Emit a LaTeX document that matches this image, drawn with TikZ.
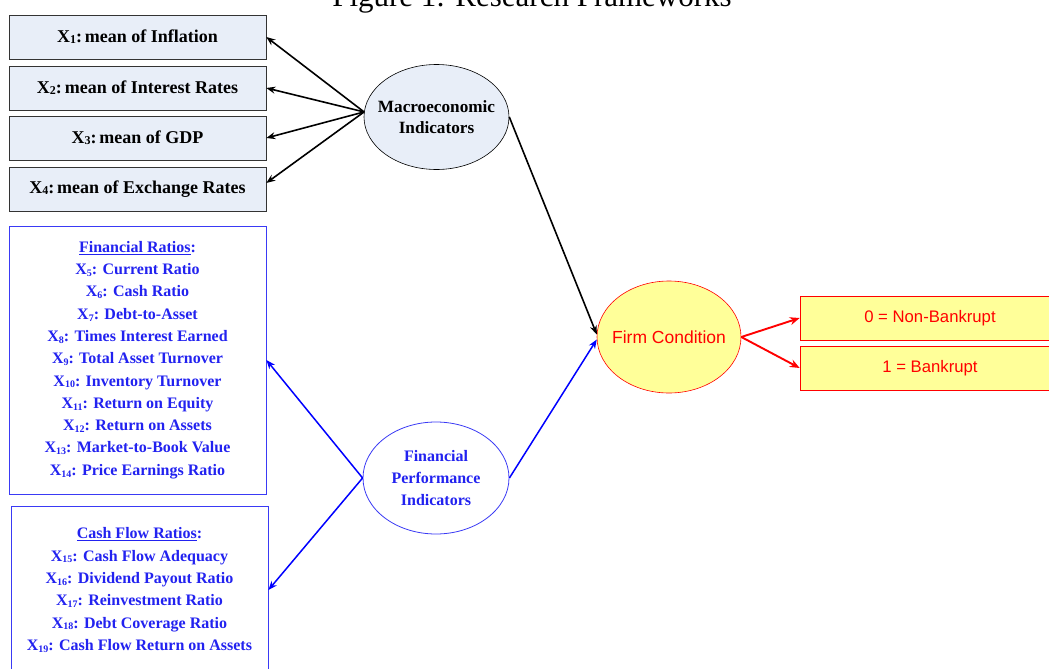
\documentclass[tikz,border=0pt]{standalone}
\usepackage{fontspec}
\setmainfont{Liberation Serif}
\newfontfamily\sansf{Liberation Sans}
\usetikzlibrary{shapes.geometric,arrows.meta}
\definecolor{mfill}{HTML}{E8EEF8}
\definecolor{fblue}{HTML}{2222F0}
\definecolor{bblue}{HTML}{3A3AF5}
\definecolor{yfill}{HTML}{FFFF99}
\newcommand{\xs}[1]{\raisebox{-0.25ex}{\fontsize{10}{10}\selectfont #1}}
\newcommand{\xm}[1]{\raisebox{-0.1ex}{\fontsize{12}{12}\selectfont #1}}
\tikzset{
  mbox/.style={draw=black!80, line width=0.6pt, fill=mfill, minimum width=257pt, minimum height=44pt, inner sep=0pt,
    font=\fontsize{18}{20}\selectfont\bfseries},
  bbox/.style={draw=bblue, line width=0.8pt, fill=white, minimum width=257pt, inner sep=0pt, text=fblue, align=center,
    font=\fontsize{16}{22.3}\selectfont\bfseries},
  ybox/.style={draw=red, line width=0.6pt, fill=yfill, minimum width=260pt, minimum height=44pt, inner sep=0pt, text=red,
    font=\sansf\fontsize{16.7}{20}\selectfont},
  mell/.style={ellipse, draw=black, line width=0.6pt, fill=mfill, minimum width=145pt, minimum height=105pt, inner sep=-14pt,
    align=center, font=\fontsize{17.2}{20.5}\selectfont\bfseries},
  fell/.style={ellipse, draw=bblue, line width=0.8pt, fill=white, minimum width=146pt, minimum height=112pt, inner sep=-14pt,
    align=center, text=fblue, font=\fontsize{16}{22}\selectfont\bfseries},
  yell/.style={ellipse, draw=red, line width=0.6pt, fill=yfill, minimum width=144pt, minimum height=112pt, inner sep=-14pt,
    text=red, font=\sansf\fontsize{17.5}{20}\selectfont},
  karr/.style={line width=1.6pt, draw=black, -{Stealth[length=9pt,width=7pt]}},
  barr/.style={line width=1.5pt, draw=blue, -{Stealth[length=9pt,width=7pt]}},
  rarr/.style={line width=1.9pt, draw=red, -{Stealth[length=10pt,width=8pt]}},
}
\begin{document}
\begin{tikzpicture}[x=1pt,y=-1pt]
\useasboundingbox (0,0) rectangle (1049,669);
\clip (0,0) rectangle (1049,669);
\fill[white] (0,0) rectangle (1049,669);
\node[anchor=base, font=\fontsize{31}{31}\selectfont] (title) at (532,7) {Figure 1: Research Frameworks};

\node[mbox] (x1) at (137.5,37) {X\xm{1}:\,mean of Inflation};
\node[mbox] (x2) at (137.5,88) {X\xm{2}:\,mean of Interest Rates};
\node[mbox] (x3) at (137.5,138) {X\xm{3}:\,mean of GDP};
\node[mbox] (x4) at (137.5,189) {X\xm{4}:\,mean of Exchange Rates};

\node[bbox, minimum height=268pt] (fin) at (137.5,360) {\underline{Financial Ratios}:\\
X\xs{5}: Current Ratio\\
X\xs{6}: Cash Ratio\\
X\xs{7}: Debt-to-Asset\\
X\xs{8}: Times Interest Earned\\
X\xs{9}: Total Asset Turnover\\
X\xs{10}: Inventory Turnover\\
X\xs{11}: Return on Equity\\
X\xs{12}: Return on Assets\\
X\xs{13}: Market-to-Book Value\\
X\xs{14}: Price Earnings Ratio};

\node[bbox, minimum height=168pt] (cash) at (139.5,590) {\underline{Cash Flow Ratios}:\\
X\xs{15}: Cash Flow Adequacy\\
X\xs{16}: Dividend Payout Ratio\\
X\xs{17}: Reinvestment Ratio\\
X\xs{18}: Debt Coverage Ratio\\
X\xs{19}: Cash Flow Return on Assets};

\node[mell] (macro) at (436.5,117) {Macroeconomic\\Indicators};
\node[fell] (fp) at (436,478) {Financial\\Performance\\Indicators};
\node[yell] (firm) at (669,337) {Firm Condition};

\node[ybox] (b0) at (930,318) {0 = Non-Bankrupt};
\node[ybox] (b1) at (930,368) {1 = Bankrupt};

\draw[karr] (macro.176) -- (x1.east);
\draw[karr] (macro.176) -- (x2.east);
\draw[karr] (macro.176) -- (x3.east);
\draw[karr] (macro.176) -- ([yshift=6pt]x4.east);
\draw[karr] (macro.east) -- (firm.178);

\draw[barr] (fp.west) -- (fin.east);
\draw[barr] (fp.west) -- (cash.east);
\draw[barr] (fp.east) -- (firm.182);

\draw[rarr] (firm.east) -- (b0.west);
\draw[rarr] (firm.east) -- (b1.west);
\end{tikzpicture}
\end{document}
